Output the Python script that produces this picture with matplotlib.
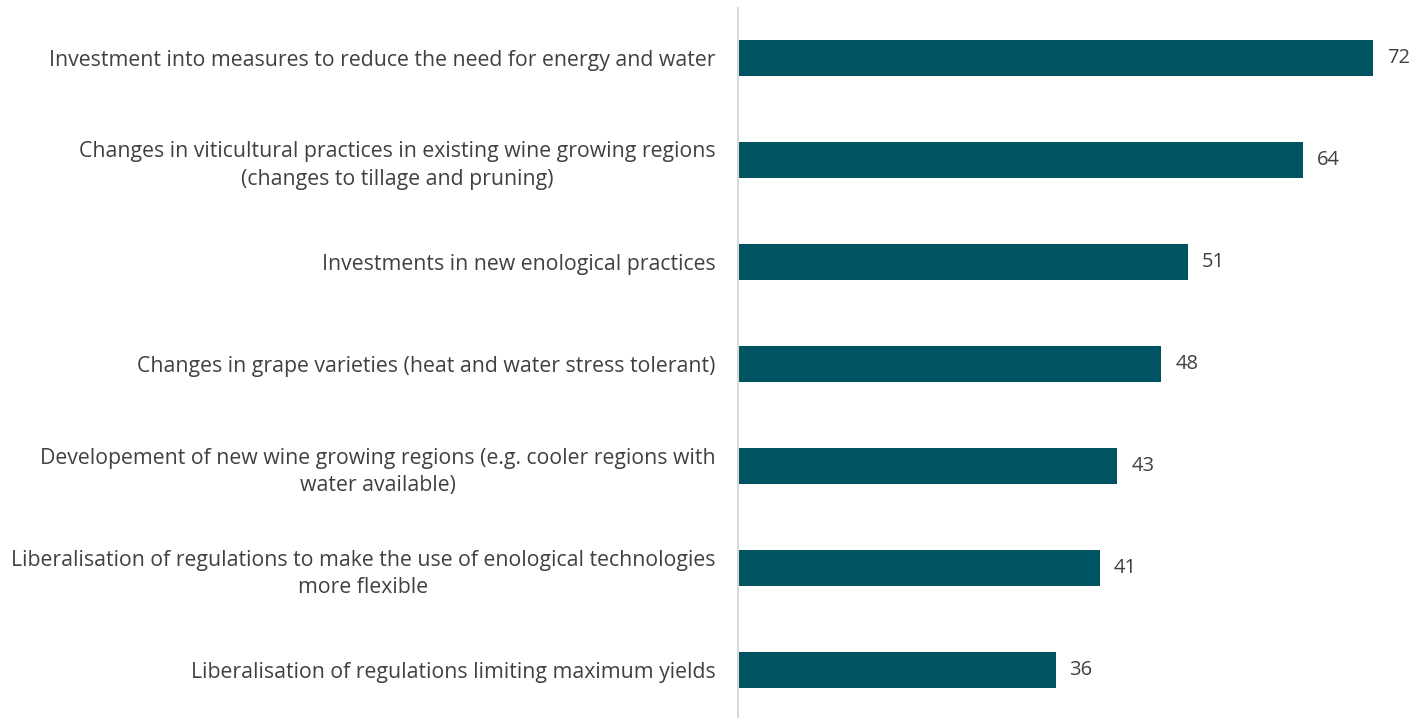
import matplotlib.pyplot as plt

categories = [
    "Investment into measures to reduce the need for energy and water",
    "Changes in viticultural practices in existing wine growing regions\n(changes to tillage and pruning)",
    "Investments in new enological practices",
    "Changes in grape varieties (heat and water stress tolerant)",
    "Developement of new wine growing regions (e.g. cooler regions with\nwater available)",
    "Liberalisation of regulations to make the use of enological technologies\nmore flexible",
    "Liberalisation of regulations limiting maximum yields",
]
values = [72, 64, 51, 48, 43, 41, 36]

bar_color = "#005462"
text_color = "#404040"

plt.rcParams['font.family'] = ['Open Sans', 'DejaVu Sans']

fig = plt.figure(figsize=(14.12, 7.18), dpi=100)
ax = fig.add_axes([738 / 1412, 0.0, 1 - 738 / 1412, 1 - 8 / 718])

pos = list(range(len(categories)))
bars = ax.barh(pos, values, height=0.35, color=bar_color)

ax.set_xlim(0, 76.4)
ax.set_ylim(6.47, -0.49)

ax.set_yticks(pos)
ax.set_yticklabels(categories, fontsize=15.3, color=text_color,
                   ha="right", multialignment="center", linespacing=1.4)
ax.tick_params(axis="y", length=0, pad=16)
ax.set_xticks([])

for spine in ["top", "right", "bottom"]:
    ax.spines[spine].set_visible(False)
ax.spines["left"].set_color("#d9d9d9")
ax.spines["left"].set_linewidth(1.5)

# value labels just past the bar end
for b, v in zip(bars, values):
    ax.annotate(str(v), (v, b.get_y() + b.get_height() / 2),
                xytext=(10, 0), textcoords="offset points",
                ha="left", va="center", fontsize=14.5, color=text_color)

fig.savefig("out.png", dpi=100)
